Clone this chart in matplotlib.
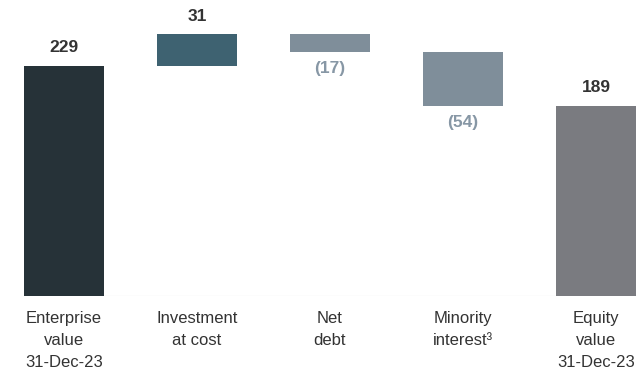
import matplotlib
matplotlib.use("Agg")
import matplotlib.pyplot as plt

categories = ["Enterprise\nvalue\n31-Dec-23", "Investment\nat cost", "Net\ndebt",
              "Minority\ninterest\u00b3", "Equity\nvalue\n31-Dec-23"]
changes = [229, 31, -17, -54, 189]
kinds = ["total", "delta", "delta", "delta", "total"]
value_labels = ["229", "31", "(17)", "(54)", "189"]
colors = ["#263238", "#3e6271", "#7f8e9a", "#7f8e9a", "#7a7b80"]
label_colors = ["#333333", "#333333", "#8797a5", "#8797a5", "#333333"]

plt.rcParams['font.family'] = ['Liberation Sans', 'DejaVu Sans']

fig = plt.figure(figsize=(6.38, 3.74), dpi=100)
ax = fig.add_axes([0, 78/374, 1, 296/374])

running = 0
for i, (v, k) in enumerate(zip(changes, kinds)):
    if k == "total":
        bottom, top = 0, v
        running = v
    else:
        bottom, top = (running, running + v) if v >= 0 else (running + v, running)
        running += v
    ax.bar(i, top - bottom, bottom=bottom, width=0.6, color=colors[i], zorder=2)
    if v >= 0:
        ax.annotate(value_labels[i], (i, top), xytext=(0, 13), textcoords="offset points",
                    ha="center", va="center", fontsize=12.5, fontweight="bold",
                    color=label_colors[i])
    else:
        ax.annotate(value_labels[i], (i, bottom), xytext=(0, -12), textcoords="offset points",
                    ha="center", va="center", fontsize=12.5, fontweight="bold",
                    color=label_colors[i])

ax.plot([-0.3, 4.3], [0, 0], color="#d0d0d0", lw=0.8, zorder=1)

ax.set_xlim(-64/133, (638-64)/133)
ax.set_ylim(0, 296/1.006)
ax.axis("off")

for i, c in enumerate(categories):
    ax.annotate(c, (i, 0), xytext=(0, -10.5), textcoords="offset points",
                ha="center", va="top", fontsize=12, color="#333333", linespacing=1.62)

fig.savefig("out.png", dpi=100)
